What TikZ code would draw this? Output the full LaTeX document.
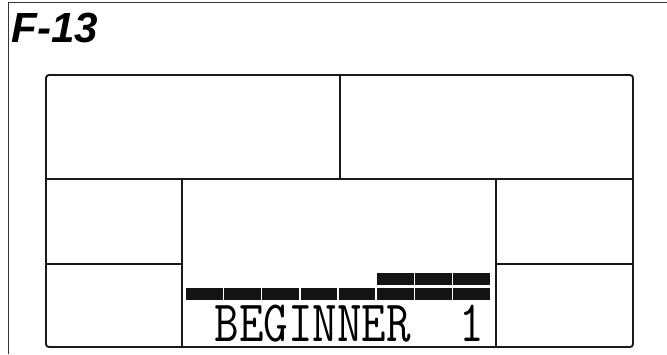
\documentclass[tikz,border=0pt]{standalone}
\usepackage{fontspec}
\newfontfamily\headfont{Liberation Sans}
\begin{document}
\begin{tikzpicture}[x=0.03cm, y=-0.03cm,
    frame/.style={line width=0.7pt, black!80},
    cell/.style={line width=1.6pt, black!90},
    seg/.style={fill=black!92, draw=none}]
    \useasboundingbox (0,0) rectangle (667,354);
    %cornice esterna
    \draw[frame] (667,2) -- (8,2) -- (8,354);
    %titolo
    \node[anchor=base west, inner sep=0pt] (title) at (11,42)
        {\headfont\bfseries\itshape\fontsize{36}{38}\selectfont F-13};
    %pannello
    \draw[cell, rounded corners=2.5pt] (46,75) rectangle (633,347);
    \draw[cell] (46,179) -- (633,179);
    \draw[cell] (340,75) -- (340,179);
    \draw[cell] (182,179) -- (182,347);
    \draw[cell] (496,179) -- (496,347);
    \draw[cell] (46,264) -- (182,264);
    \draw[cell] (496,264) -- (633,264);
    %barre
    \foreach \i in {0,...,7}
        \fill[seg] (186+38.2*\i,288) rectangle ++(36.5,12);
    \foreach \i in {5,6,7}
        \fill[seg] (186+38.2*\i,273) rectangle ++(36.5,12);
    %testo display
    \node[inner sep=0pt, xscale=0.813] (level) at (349.5,324)
        {\ttfamily\fontsize{50}{56}\selectfont BEGINNER\ \ 1};
\end{tikzpicture}
\end{document}
